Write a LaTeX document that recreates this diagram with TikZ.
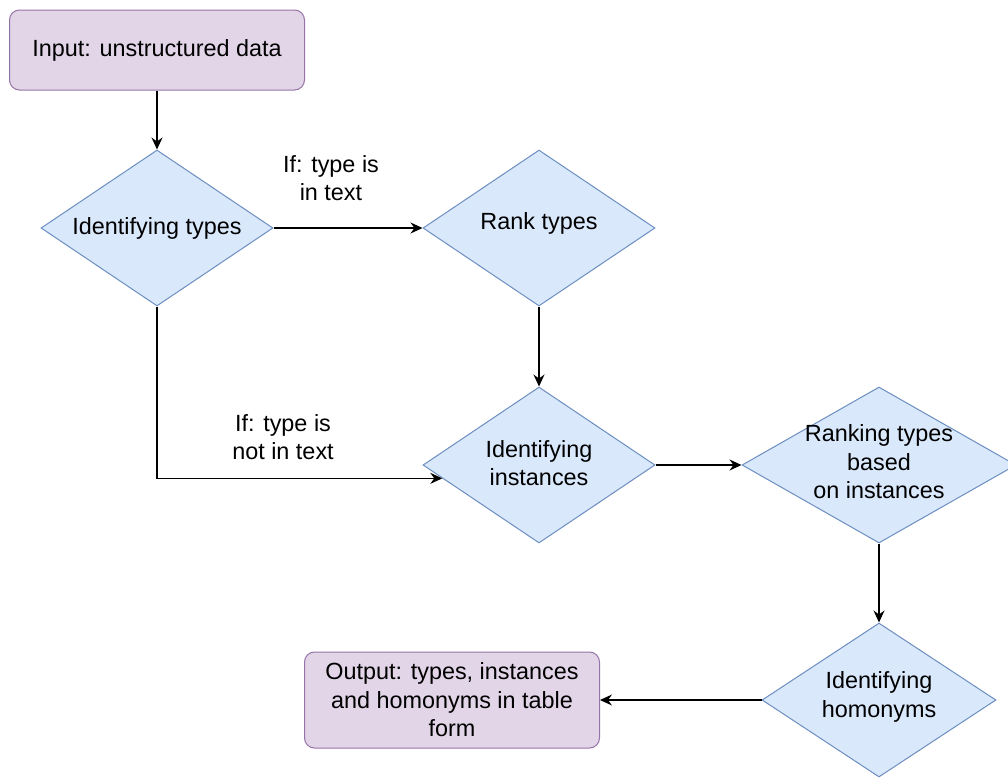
\documentclass[tikz,border=0pt]{standalone}
\usepackage{fontspec}
\setmainfont{Liberation Sans}
\usetikzlibrary{shapes.geometric,arrows.meta,calc}
\definecolor{iofill}{HTML}{E1D5E7}
\definecolor{ioline}{HTML}{9673A6}
\definecolor{decfill}{HTML}{DAE8FC}
\definecolor{decline}{HTML}{6C8EBF}
\tikzset{
  every node/.style={font=\fontsize{11.7}{14.2}\selectfont},
  iobox/.style={draw=ioline,fill=iofill,rounded corners=5pt,line width=.5pt,
    minimum width=147.5pt,align=center,inner sep=0pt},
  decide/.style={diamond,draw=decline,fill=decfill,line width=.5pt,inner sep=0pt,
    minimum width=116pt,minimum height=78pt},
  flow/.style={-{Stealth[length=6pt,width=5.5pt,inset=2pt]},line width=.6pt},
}
\begin{document}
\begin{tikzpicture}[x=.5pt,y=-.5pt]
    \useasboundingbox (0,0) rectangle (1008,778);
    % start and end boxes
    \node[iobox,minimum height=40pt] (input) at (157,50) {Input: unstructured data};
    \node[iobox,minimum height=48pt] (output) at (452,700)
        {Output: types, instances\\and homonyms in table\\form};
    % decisions
    \node[decide,label={[align=center]center:Identifying types}] (idtypes) at (157,228) {};
    \node[decide,label={[align=center,yshift=2.5pt]center:Rank types}] (rank) at (539,228) {};
    \node[decide,label={[align=center,yshift=1pt]center:Identifying\\instances}] (idinst) at (539,465) {};
    \node[decide,minimum width=137pt,
          label={[align=center,yshift=1.5pt]center:Ranking types\\based\\on instances}] (rankinst) at (879,465) {};
    \node[decide,minimum width=117pt,minimum height=77pt,
          label={[align=center,yshift=1.5pt]center:Identifying\\homonyms}] (idhom) at (879,700) {};
    \coordinate (entry) at ($(idinst.west)!.17!(idinst.south)$); % side entry
    % branch labels
    \node[align=center] (yes) at (331,178) {If: type is\\in text};
    \node[align=center] (no) at (283,437) {If: type is\\not in text};
    % connectors
    \draw[flow] (input.south) -- (idtypes.north);
    \draw[flow] (idtypes.east) -- (rank.west);
    \draw[flow] (idtypes.south) |- (entry);
    \draw[flow] (rank.south) -- (idinst.north);
    \draw[flow] (idinst.east) -- (rankinst.west);
    \draw[flow] (rankinst.south) -- (idhom.north);
    \draw[flow] (idhom.west) -- (output.east);
\end{tikzpicture}
\end{document}
